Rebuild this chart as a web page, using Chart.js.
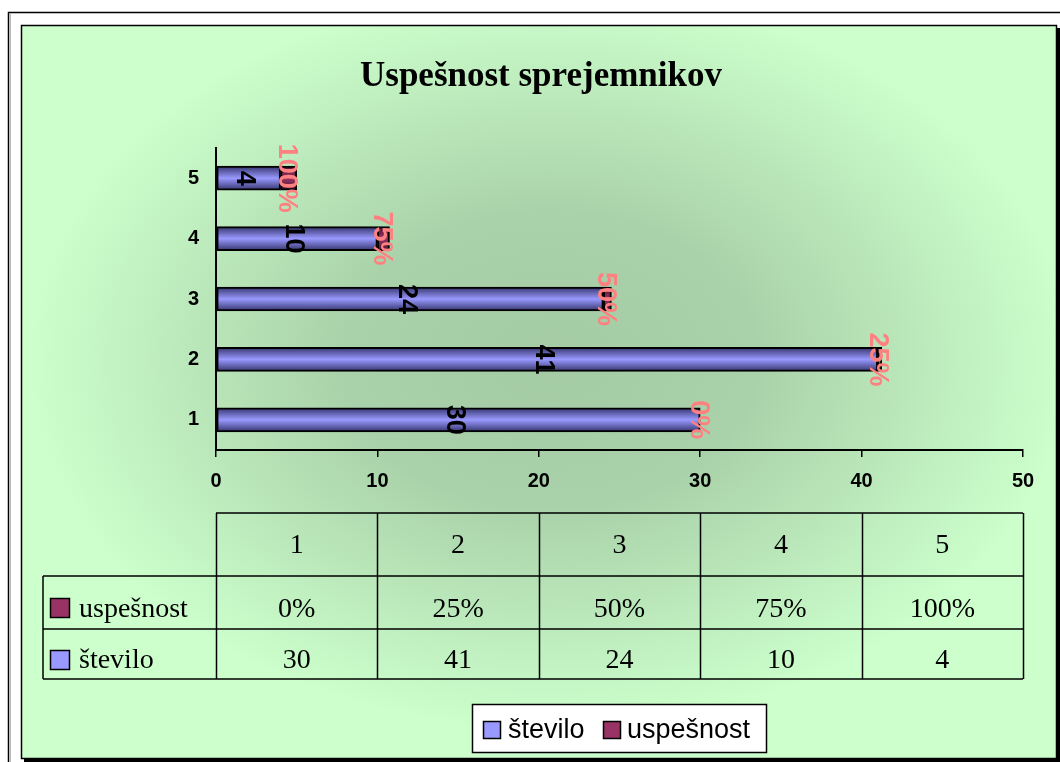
<!DOCTYPE html>
<html>
<head>
<meta charset="utf-8">
<title>Uspešnost sprejemnikov</title>
<script src="https://cdn.jsdelivr.net/npm/chart.js@4/dist/chart.umd.min.js"></script>
<style>
  html, body { margin: 0; padding: 0; background: #fff; }
  canvas { display: block; }
</style>
</head>
<body>
<canvas id="myChart" width="1060" height="762"></canvas>
<script>
// podatki
const categories = ['1', '2', '3', '4', '5'];
const stevilo = [30, 41, 24, 10, 4];
const uspesnost = [0, 0.25, 0.5, 0.75, 1];   // delez, prikazan kot %
const xTicks = [0, 10, 20, 30, 40, 50];
const seriesNames = ['število', 'uspešnost'];

const SANS = '"Liberation Sans", Arial, sans-serif';
const SERIF = '"Liberation Serif", "Times New Roman", serif';

const pct = v => Math.round(v * 100) + '%';

// gradient cez debelino stolpca
function barFill(edge, mid) {
  return (c) => {
    const chart = c.chart;
    const y = chart.scales && chart.scales.y;
    if (!y || c.dataIndex === undefined || !chart.chartArea) return mid;
    const py = y.getPixelForValue(c.dataIndex);
    const g = chart.ctx.createLinearGradient(0, py - 12, 0, py + 12);
    g.addColorStop(0, edge);
    g.addColorStop(0.5, mid);
    g.addColorStop(1, edge);
    return g;
  };
}

// ozadje in okvir
const backgroundPlugin = {
  id: 'background',
  beforeDraw(chart) {
    const ctx = chart.ctx;
    ctx.save();
    ctx.fillStyle = '#fff';
    ctx.fillRect(0, 0, chart.width, chart.height);

    // zunanji okvir
    ctx.strokeStyle = '#000';
    ctx.lineWidth = 1.5;
    ctx.strokeRect(8.5, 12.5, 1200, 900);
    ctx.strokeStyle = '#bbb';
    ctx.lineWidth = 1;
    ctx.beginPath();
    ctx.moveTo(10.5, 14);
    ctx.lineTo(10.5, 762);
    ctx.stroke();

    // senca
    ctx.fillStyle = '#000';
    ctx.fillRect(24, 28, 1036, 734);

    // zeleno polje z gradientom od sredine
    const x0 = 21, y0 = 25, w = 1036, h = 734;
    ctx.fillStyle = '#ccffcc';
    ctx.fillRect(x0, y0, w, h);
    ctx.save();
    ctx.beginPath();
    ctx.rect(x0, y0, w, h);
    ctx.clip();
    const cx = 550, cy = 360, rx = 520, ry = 370;
    ctx.translate(cx, cy);
    ctx.scale(rx / ry, 1);
    const g = ctx.createRadialGradient(0, 0, 0, 0, 0, ry);
    g.addColorStop(0, '#a4cba4');
    g.addColorStop(0.4, '#aad2aa');
    g.addColorStop(1, '#ccffcc');
    ctx.fillStyle = g;
    ctx.fillRect(-ry * 2, -ry * 2, ry * 4, ry * 4);
    ctx.restore();

    ctx.strokeStyle = '#000';
    ctx.lineWidth = 1.5;
    ctx.strokeRect(x0 + 0.5, y0 + 0.5, w - 1, h - 1);
    ctx.restore();
  }
};

// oznake podatkov (zasukane za 90 stopinj)
const labelsPlugin = {
  id: 'barLabels',
  afterDatasetsDraw(chart) {
    const ctx = chart.ctx;
    ctx.save();
    ctx.textAlign = 'center';
    ctx.textBaseline = 'middle';
    chart.data.datasets.forEach((ds, di) => {
      const meta = chart.getDatasetMeta(di);
      meta.data.forEach((bar, i) => {
        const v = ds.data[i];
        const cx = (bar.x + bar.base) / 2;
        ctx.save();
        ctx.translate(cx, bar.y);
        ctx.rotate(Math.PI / 2);
        if (di === 0) {
          ctx.font = 'bold 27px ' + SANS;
          ctx.fillStyle = '#000';
          ctx.fillText(String(v), 0, 4);
        } else {
          ctx.font = 'bold 27px ' + SANS;
          ctx.fillStyle = '#ff8080';
          ctx.fillText(pct(v), 0, 2);
        }
        ctx.restore();
      });
    });
    ctx.restore();
  }
};

// podatkovna tabela in legenda
const tablePlugin = {
  id: 'dataTable',
  afterDraw(chart) {
    const ctx = chart.ctx;
    const area = chart.chartArea;
    const colW = (area.right - area.left) / categories.length;
    const rowTop = 513, row1 = 576, row2 = 629, rowBot = 679, leftX = 43;
    const swatch = ['#9999ff', '#993366'];

    ctx.save();
    ctx.strokeStyle = '#000';
    ctx.lineWidth = 1.5;
    ctx.beginPath();
    ctx.moveTo(area.left, rowTop); ctx.lineTo(area.right, rowTop);
    [row1, row2, rowBot].forEach(y => { ctx.moveTo(leftX, y); ctx.lineTo(area.right, y); });
    ctx.moveTo(leftX, row1); ctx.lineTo(leftX, rowBot);
    for (let i = 0; i <= categories.length; i++) {
      const x = Math.round(area.left + i * colW) + 0.5;
      ctx.moveTo(x, rowTop); ctx.lineTo(x, rowBot);
    }
    ctx.stroke();

    ctx.font = '28px ' + SERIF;
    ctx.fillStyle = '#000';
    ctx.textAlign = 'center';
    ctx.textBaseline = 'alphabetic';
    categories.forEach((c, i) => {
      const x = area.left + (i + 0.5) * colW;
      ctx.fillText(c, x, 553);
      ctx.fillText(pct(uspesnost[i]), x, 617);
      ctx.fillText(String(stevilo[i]), x, 668);
    });

    // imena vrstic
    ctx.textAlign = 'left';
    [[seriesNames[1], swatch[1], 617, 598], [seriesNames[0], swatch[0], 668, 650]].forEach(r => {
      ctx.fillStyle = r[1];
      ctx.fillRect(50, r[3], 19, 19);
      ctx.lineWidth = 1.5;
      ctx.strokeRect(50.5, r[3] + 0.5, 19, 19);
      ctx.fillStyle = '#000';
      ctx.fillText(r[0], 79, r[2]);
    });

    // legenda
    ctx.fillStyle = '#fff';
    ctx.fillRect(472, 704, 294, 48);
    ctx.lineWidth = 1.5;
    ctx.strokeRect(472.5, 704.5, 294, 48);
    ctx.font = '27px ' + SANS;
    const items = [[seriesNames[0], swatch[0], 483, 508], [seriesNames[1], swatch[1], 603, 627]];
    items.forEach(it => {
      ctx.fillStyle = it[1];
      ctx.fillRect(it[2], 721, 17, 17);
      ctx.lineWidth = 1.5;
      ctx.strokeRect(it[2] + 0.5, 721.5, 17, 17);
      ctx.fillStyle = '#000';
      ctx.fillText(it[0], it[3], 738);
    });
    ctx.restore();
  }
};

const chart = new Chart(document.getElementById('myChart'), {
  type: 'bar',
  data: {
    labels: categories,
    datasets: [
      {
        label: seriesNames[0],
        data: stevilo,
        backgroundColor: barFill('#34346c', '#9999ff'),
        borderColor: '#000',
        borderWidth: 2,
        borderSkipped: false,
        barThickness: 24,
      },
      {
        label: seriesNames[1],
        data: uspesnost,
        backgroundColor: barFill('#4a1530', '#993366'),
        borderColor: '#000',
        borderWidth: 2,
        borderSkipped: false,
        barThickness: 24,
      },
    ],
  },
  options: {
    indexAxis: 'y',
    responsive: false,
    animation: false,
    devicePixelRatio: 1,
    layout: { padding: { left: 59, right: 37, top: 0, bottom: 262 } },
    scales: {
      x: {
        stacked: true,
        min: 0,
        max: 50,
        afterBuildTicks: (s) => { s.ticks = xTicks.map(v => ({ value: v })); },
        afterFit: (s) => { s.height = 50; },
        ticks: { color: '#000', font: { family: SANS, size: 20, weight: 'bold' }, padding: 12, maxRotation: 0 },
        grid: { display: true, drawOnChartArea: false, drawTicks: true, tickLength: 7, color: '#000', lineWidth: 1.5 },
        border: { display: true, color: '#000', width: 2 },
      },
      y: {
        stacked: true,
        reverse: true,
        afterFit: (s) => { s.width = 157; },
        ticks: { color: '#000', font: { family: SANS, size: 20, weight: 'bold' }, padding: 17 },
        grid: { display: false, drawTicks: false },
        border: { display: true, color: '#000', width: 2 },
      },
    },
    plugins: {
      legend: { display: false },
      tooltip: { enabled: false },
      title: {
        display: true,
        text: 'Uspešnost sprejemnikov',
        color: '#000',
        font: { family: SERIF, size: 35, weight: 'bold' },
        padding: { top: 56, bottom: 50 },
      },
    },
  },
  plugins: [backgroundPlugin, labelsPlugin, tablePlugin],
});
</script>
</body>
</html>
